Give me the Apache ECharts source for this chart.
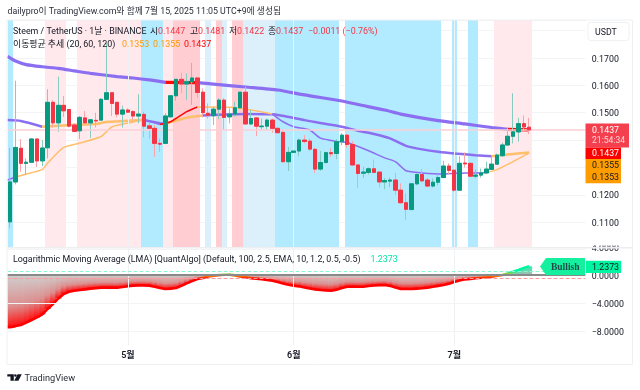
<!DOCTYPE html>
<html lang="ko">
<head>
  <meta charset="UTF-8" />
  <title>Steem / TetherUS</title>
  <script src="https://cdn.jsdelivr.net/npm/echarts@6/dist/echarts.min.js"></script>
  <style>
    html, body { margin: 0; padding: 0; background: #fff; }
    #chart { width: 640px; height: 390px; }
  </style>
</head>
<body>
  <div id="chart"></div>
  <script>
    // daily candles, 9 Apr to 15 Jul 2025
    const opens = [
      .1101, .1247, .1370, .1315, .1319, .1404, .1324, .1372, .1538, .1463,
      .1527, .1512, .1455, .1434, .1481, .1463, .1472, .1473, .1549, .1573,
      .1538, .1495, .1510, .1504, .1488, .1494, .1452, .1443, .1388, .1388,
      .1485, .1562, .1622, .1605, .1613, .1627, .1575, .1498, .1489, .1513,
      .1546, .1485, .1495, .1518, .1575, .1459, .1481, .1449, .1451, .1473,
      .1443, .1428, .1321, .1355, .1360, .1400, .1396, .1366, .1294, .1318,
      .1354, .1351, .1394, .1418, .1384, .1309, .1279, .1282, .1295, .1283,
      .1247, .1250, .1254, .1217, .1171, .1146, .1240, .1274, .1254, .1232,
      .1246, .1263, .1305, .1290, .1217, .1316, .1315, .1268, .1272, .1280,
      .1293, .1312, .1343, .1382, .1414, .1430, .1460, .1447
    ];
    const closes = [
      .1247, .1373, .1315, .1319, .1404, .1324, .1371, .1538, .1463, .1527,
      .1507, .1451, .1432, .1483, .1463, .1474, .1470, .1549, .1573, .1534,
      .1495, .1510, .1502, .1488, .1495, .1451, .1443, .1388, .1385, .1488,
      .1562, .1622, .1605, .1613, .1627, .1574, .1500, .1490, .1513, .1546,
      .1483, .1495, .1518, .1575, .1459, .1479, .1451, .1451, .1473, .1443,
      .1427, .1321, .1355, .1360, .1400, .1395, .1367, .1294, .1318, .1354,
      .1350, .1394, .1418, .1384, .1309, .1278, .1283, .1295, .1282, .1247,
      .1252, .1254, .1217, .1171, .1147, .1240, .1274, .1251, .1232, .1246,
      .1263, .1305, .1289, .1217, .1315, .1313, .1268, .1272, .1280, .1294,
      .1312, .1345, .1382, .1414, .1430, .1460, .1448, .1437
    ];
    const lows = [
      .1079, .1238, .1284, .1272, .1317, .1302, .1305, .1333, .1446, .1430,
      .1485, .1446, .1429, .1404, .1461, .1408, .1446, .1473, .1546, .1488,
      .1483, .1446, .1500, .1473, .1461, .1410, .1406, .1339, .1357, .1385,
      .1483, .1544, .1571, .1546, .1528, .1554, .1483, .1479, .1455, .1476,
      .1440, .1461, .1485, .1516, .1457, .1455, .1415, .1437, .1437, .1427,
      .1425, .1318, .1287, .1315, .1341, .1388, .1360, .1280, .1288, .1315,
      .1339, .1330, .1382, .1373, .1309, .1225, .1262, .1274, .1278, .1227,
      .1220, .1228, .1199, .1168, .1107, .1144, .1235, .1247, .1229, .1227,
      .1235, .1263, .1276, .1211, .1214, .1300, .1266, .1260, .1263, .1278,
      .1290, .1309, .1339, .1379, .1388, .1394, .1430, .1422
    ];
    const highs = [
      .1371, .1617, .1403, .1333, .1406, .1404, .1400, .1586, .1546, .1632,
      .1561, .1512, .1461, .1488, .1506, .1476, .1500, .1553, .1755, .1576,
      .1538, .1526, .1516, .1510, .1568, .1504, .1463, .1455, .1406, .1498,
      .1562, .1622, .1646, .1644, .1682, .1631, .1589, .1534, .1522, .1553,
      .1553, .1516, .1540, .1575, .1595, .1510, .1484, .1479, .1479, .1479,
      .1446, .1437, .1375, .1363, .1406, .1418, .1406, .1373, .1360, .1357,
      .1370, .1404, .1425, .1422, .1397, .1312, .1302, .1300, .1329, .1283,
      .1262, .1263, .1280, .1242, .1205, .1240, .1278, .1294, .1263, .1260,
      .1276, .1324, .1315, .1290, .1341, .1355, .1315, .1293, .1296, .1321,
      .1339, .1351, .1390, .1445, .1571, .1481, .1490, .1481
    ];

    // moving averages as [candle index, price]
    const ma120Points = [
      [-0.5, .1706], [1, .1689], [3, .1676], [6, .1668], [9, .1662], [12, .1653],
      [15, .1644], [20, .1632], [23, .1627], [26, .1620], [29, .1611], [35, .1610],
      [39, .1603], [44, .1594], [50, .1583], [55, .1565], [62, .1543], [65, .1530],
      [70, .1510], [73, .1495], [80, .1471], [85, .1459], [90, .1446], [93, .1439],
      [97, .1437]
    ];
    const ma60Points = [
      [-0.5, .1473], [2, .1470], [6, .1449], [12, .1456], [16, .1459], [18, .1466],
      [23, .1472], [25, .1473], [28, .1462], [29, .1459], [30, .1466], [33, .1482],
      [36, .1490], [44, .1495], [49, .1494], [55, .1473], [62, .1449], [65, .1434],
      [68, .1422], [71, .1406], [74, .1379], [77, .1366], [80, .1357], [83, .1351],
      [87, .1345], [90, .1341], [93, .1347], [97, .1355]
    ];
    const ma20Points = [
      [-0.5, .1254], [1, .1265], [3, .1276], [6, .1292], [7, .1316], [10, .1373],
      [13, .1389], [17, .1413], [19, .1448], [23, .1466], [25, .1475], [28, .1457],
      [30, .1467], [33, .1504], [35, .1521], [41, .1520], [45, .1510], [49, .1495],
      [51, .1467], [53, .1449], [56, .1437], [58, .1407], [61, .1395], [63, .1391],
      [67, .1361], [70, .1335], [72, .1321], [74, .1288], [77, .1280], [81, .1276],
      [85, .1280], [89, .1281], [91, .1292], [94, .1321], [97, .1353]
    ];

    // trend colour runs per average: [from index, to index, state]
    const ma120Runs = [[-0.5, 29, 'down'], [29, 35, 'up'], [35, 93, 'down'], [93, 97, 'up']];
    const ma60Runs = [[-0.5, 6, 'down'], [6, 25, 'flat'], [25, 29, 'down'], [29, 36, 'flat'], [36, 90, 'down'], [90, 97, 'flat']];
    const ma20Runs = [[-0.5, 1, 'down'], [1, 25, 'flat'], [25, 28, 'down'], [28, 35, 'up'], [35, 49, 'flat'], [49, 89, 'down'], [89, 97, 'flat']];

    // background state per candle: 0 none, 1 pink, 2 red, 3 cyan, 4 pale blue
    const bandStates = [
      3, 0, 0, 0, 0, 0, 0, 1, 1, 1,
      1, 0, 0, 1, 1, 1, 1, 1, 1, 1,
      1, 1, 1, 1, 1, 3, 3, 3, 3, 1,
      1, 2, 2, 2, 2, 2, 0, 4, 0, 2,
      4, 0, 2, 2, 4, 4, 4, 4, 4, 4,
      3, 3, 3, 3, 3, 3, 3, 3, 3, 3,
      3, 3, 0, 3, 3, 3, 3, 3, 3, 3,
      3, 3, 3, 3, 3, 3, 3, 3, 3, 3,
      3, 0, 0, 3, 0, 0, 3, 3, 0, 0,
      0, 1, 1, 1, 1, 1, 1, 1
    ];

    // LMA indicator per candle
    const lmaValues = [
      -7.45, -7.3, -7.14, -6.8, -6.43, -6.05, -5.62, -4.85, -4.14, -3.35,
      -2.71, -2.4, -2.25, -2.14, -2.05, -1.95, -1.87, -1.81, -1.8, -1.8,
      -1.81, -1.72, -1.6, -1.52, -1.48, -1.48, -1.52, -1.68, -1.86, -2.0,
      -1.95, -1.86, -1.55, -1.2, -.88, -.57, -.43, -.22, -.1, -.02,
      .03, .05, -.05, -.2, -.33, -.45, -.52, -.6, -.7, -.81,
      -1.0, -1.2, -1.38, -1.52, -1.62, -1.78, -1.92, -2.05, -2.14, -2.2,
      -2.24, -2.1, -1.85, -1.67, -1.65, -1.68, -1.67, -1.58, -1.5, -1.45,
      -1.43, -1.55, -1.8, -1.98, -2.0, -2.0, -1.95, -1.9, -1.8, -1.68,
      -1.55, -1.43, -1.25, -1.0, -.8, -.62, -.55, -.47, -.4, -.33,
      -.24, -.12, 0, .2, .45, .72, 1.0, 1.2373
    ];

    const monthIndexes = [22, 53, 83];
    const monthLabels = ['5월', '6월', '7월'];
    const lmaTicks = [4, 0, -4, -8];
    const lmaLevels = [0.5, -0.5];
    const lastPrice = 0.1437;

    const SLOTS = 108; // candles plus the empty space on the right
    const LABEL_NUDGE = 1.4; // canvas text sits a little high, label grids are moved down by this
    const bandColors = ['', '#ffe9ec', '#ffcdd2', '#b2ebff', '#dcf0fb'];
    const trendColors = { down: '#8b6ff0', flat: '#ffbf6b', up: '#ff0a0a' };
    const UI_FONT = 'Roboto, "Noto Sans CJK KR", sans-serif';

    const slotLabels = [];
    for (let i = 0; i < SLOTS; i++) {
      const m = monthIndexes.indexOf(i);
      slotLabels.push(m >= 0 ? monthLabels[m] : '');
    }

    const series = [];

    // coloured background bands
    series.push({
      type: 'custom',
      xAxisIndex: 1,
      yAxisIndex: 0,
      z: 1,
      silent: true,
      clip: true,
      data: bandStates.map((s, i) => [i, s]),
      renderItem(params, api) {
        const state = api.value(1);
        if (!state) return null;
        const i = api.value(0);
        const a = api.coord([i - 0.5, 0.1839]);
        const b = api.coord([i + 0.5, 0.1008]);
        const x0 = Math.round(a[0]);
        const x1 = Math.round(b[0]);
        return {
          type: 'rect',
          shape: { x: x0, y: a[1], width: x1 - x0, height: b[1] - a[1] },
          style: { fill: bandColors[state] }
        };
      }
    });

    // month grid lines and last price line
    series.push({
      type: 'line',
      xAxisIndex: 1,
      yAxisIndex: 0,
      z: 2,
      data: [],
      markLine: {
        silent: true,
        symbol: 'none',
        animation: false,
        precision: 6,
        label: { show: false },
        data: monthIndexes.map(m => ({ xAxis: m, lineStyle: { color: '#f0f1f3', width: 1, type: 'solid' } }))
          .concat([{ yAxis: lastPrice, lineStyle: { color: '#fbcfd4', width: 1.5, type: 'solid' } }])
      }
    });

    function addTrendLine(points, runs, width) {
      runs.forEach(run => {
        series.push({
          type: 'line',
          xAxisIndex: 1,
          yAxisIndex: 0,
          z: 3,
          showSymbol: false,
          smooth: 0.2,
          silent: true,
          lineStyle: { color: trendColors[run[2]], width },
          data: points.filter(p => p[0] >= run[0] && p[0] <= run[1])
        });
      });
    }
    addTrendLine(ma120Points, ma120Runs, 3.2);
    addTrendLine(ma60Points, ma60Runs, 2.5);
    addTrendLine(ma20Points, ma20Runs, 1.5);

    // wicks in a pale tone, then solid bodies on top
    series.push({
      type: 'candlestick',
      xAxisIndex: 0,
      yAxisIndex: 0,
      z: 4,
      silent: true,
      barWidth: 4,
      itemStyle: { color: '#089981', color0: '#f23645', borderColor: '#85cbbf', borderColor0: '#f9a3aa', borderWidth: 1 },
      data: opens.map((o, i) => [o, closes[i], lows[i], highs[i]])
    });
    series.push({
      type: 'candlestick',
      xAxisIndex: 0,
      yAxisIndex: 0,
      z: 5,
      silent: true,
      barWidth: 4,
      itemStyle: { color: '#089981', color0: '#f23645', borderColor: '#089981', borderColor0: '#f23645', borderWidth: 1 },
      data: opens.map((o, i) => [o, closes[i], Math.min(o, closes[i]), Math.max(o, closes[i])])
    });

    // indicator pane: shaded columns down or up to the LMA value
    series.push({
      type: 'bar',
      xAxisIndex: 2,
      yAxisIndex: 1,
      z: 2,
      silent: true,
      barWidth: 6,
      data: lmaValues.map(v => ({
        value: v,
        itemStyle: {
          color: v < 0
            ? new echarts.graphic.LinearGradient(0, 0, 0, 1, [
                { offset: 0, color: '#cfcfcf' },
                { offset: 0.6, color: '#dc8f8f' },
                { offset: 1, color: '#ff1010' }
              ])
            : new echarts.graphic.LinearGradient(0, 0, 0, 1, [
                { offset: 0, color: '#2cf0ac' },
                { offset: 1, color: '#b5b5b5' }
              ])
        }
      }))
    });

    // indicator guide lines
    series.push({
      type: 'line',
      xAxisIndex: 3,
      yAxisIndex: 1,
      z: 3,
      data: [],
      markLine: {
        silent: true,
        symbol: 'none',
        animation: false,
        precision: 4,
        label: { show: false },
        data: lmaTicks.filter(t => t !== 0).map(t => ({ yAxis: t, lineStyle: { color: '#f3f4f6', width: 1, type: 'solid' } }))
          .concat(monthIndexes.map(m => ({ xAxis: m, lineStyle: { color: '#f0f1f3', width: 1, type: 'solid' } })))
          .concat([
            { yAxis: 0, lineStyle: { color: '#8a8a8a', width: 2, type: 'solid' } },
            { yAxis: lmaLevels[0], lineStyle: { color: '#8df5d2', width: 1, type: 'dashed' } },
            { yAxis: lmaLevels[1], lineStyle: { color: '#ff9b9b', width: 1, type: 'dashed' } }
          ])
      }
    });

    const lmaSeriesIndex = series.length;
    series.push({
      type: 'line',
      xAxisIndex: 3,
      yAxisIndex: 1,
      z: 4,
      showSymbol: false,
      silent: true,
      lineStyle: { width: 2.6 },
      data: [[-0.5, lmaValues[0]]].concat(lmaValues.map((v, i) => [i, v]))
    });

    function txt(x, y, text, fill, extra) {
      return {
        type: 'text',
        z: 100,
        silent: true,
        x,
        y: y + 1.2,
        style: Object.assign({
          text,
          fill,
          font: '8.9px ' + UI_FONT,
          textVerticalAlign: 'middle'
        }, extra || {})
      };
    }
    function box(x, y, width, height, fill, extra) {
      return Object.assign({
        type: 'rect',
        z: 90,
        silent: true,
        shape: { x, y, width, height },
        style: { fill }
      }, extra || {});
    }

    const RED = '#f23645';
    const INK = '#131722';
    const graphics = [
      txt(7.5, 11, 'dailypro이 TradingView.com와 함께 7월 15, 2025 11:05 UTC+9에 생성됨', '#2a2e39', { font: '8.8px ' + UI_FONT }),

      txt(13, 31, 'Steem / TetherUS · 1날 · BINANCE', INK),
      txt(150, 31, '시', INK), txt(158, 31, '0.1447', RED),
      txt(190, 31, '고', INK), txt(198, 31, '0.1481', RED),
      txt(229, 31, '저', INK), txt(237, 31, '0.1422', RED),
      txt(268, 31, '종', INK), txt(276, 31, '0.1437', RED),
      txt(308, 31, '−0.0011 (−0.76%)', RED),

      txt(13, 43.5, '이동평균 추세 (20, 60, 120)', INK),
      txt(122, 43.5, '0.1353', '#ff9800'),
      txt(153, 43.5, '0.1355', '#ff9800'),
      txt(184, 43.5, '0.1437', '#ff0000'),

      txt(13, 258.5, 'Logarithmic Moving Average (LMA) [QuantAlgo] (Default, 100, 2.5, EMA, 10, 1.2, 0.5, -0.5)', INK),
      txt(370.5, 258.5, '1.2373', '#00e5a0'),

      // frame and pane divider
      box(7, 20, 625.5, 344.5, 'transparent', { style: { fill: 'transparent', stroke: '#eef0f2', lineWidth: 1 }, z: 80 }),
      box(7.5, 247, 625, 1.6, '#eceef0', { z: 40 }),
      box(587, 236, 45, 9.5, '#ffffff', { z: 50 }),

      // USDT button
      {
        type: 'rect', z: 90, silent: true,
        shape: { x: 588, y: 22.5, width: 41, height: 18, r: 3 },
        style: { fill: '#ffffff', stroke: '#f0f1f3', lineWidth: 1 }
      },
      txt(595, 31.5, 'USDT', INK, { font: '8.8px ' + UI_FONT }),

      // price tags
      box(585.5, 123.5, 43.5, 24, '#f4404e'),
      txt(592, 130, '0.1437', '#ffffff', { font: '8.8px ' + UI_FONT }),
      txt(592, 140, '21:54:34', '#ffd5d9', { font: '8.6px ' + UI_FONT }),
      box(585.5, 147.5, 35.5, 11.5, '#ff0000'),
      txt(592, 152.5, '0.1437', '#ffffff', { font: '8.8px ' + UI_FONT }),
      box(585.5, 159, 35.5, 24.3, '#ff9d00'),
      txt(592, 165, '0.1355', INK, { font: '8.8px ' + UI_FONT }),
      txt(592, 177, '0.1353', INK, { font: '8.8px ' + UI_FONT }),

      // indicator tags
      {
        type: 'polygon', z: 90, silent: true,
        shape: { points: [[540, 266.5], [546, 258], [585, 258], [585, 275], [546, 275]] },
        style: { fill: '#14f09e' }
      },
      txt(551, 266, 'Bullish', '#1f4a4d', { font: 'bold 9.5px "Liberation Serif", serif' }),
      box(585.7, 260.7, 35.5, 12.2, '#00f5a0'),
      txt(592, 266.5, '1.2373', INK, { font: '8.8px ' + UI_FONT }),

      // TradingView mark
      {
        type: 'polygon', z: 90, silent: true,
        shape: { points: [[7.3, 374.2], [13.8, 374.2], [13.8, 380.8], [10.5, 380.8], [10.5, 376.6], [7.3, 376.6]] },
        style: { fill: '#131722' }
      },
      { type: 'circle', z: 90, silent: true, shape: { cx: 15.4, cy: 375.4, r: 1.25 }, style: { fill: '#131722' } },
      {
        type: 'polygon', z: 90, silent: true,
        shape: { points: [[17.6, 374.2], [21.8, 374.2], [18.4, 380.8], [14.2, 380.8]] },
        style: { fill: '#131722' }
      },
      txt(24.5, 377.5, 'TradingView', '#2a2e39', { font: '9.2px ' + UI_FONT })
    ];

    const rightLabels = {
      margin: 6.5,
      color: '#131722',
      fontSize: 8.8,
      fontFamily: UI_FONT
    };

    const chart = echarts.init(document.getElementById('chart'), null, { renderer: 'canvas' });
    chart.setOption({
      animation: false,
      backgroundColor: '#ffffff',
      textStyle: { fontFamily: UI_FONT },
      grid: [
        { left: 7.5, width: 577.8, top: 20, height: 229.5 },
        { left: 7.5, width: 577.8, top: 247, height: 98 },
        // same panes again, only to carry the price labels a touch lower
        { left: 7.5, width: 577.8, top: 20 + LABEL_NUDGE, height: 229.5 },
        { left: 7.5, width: 577.8, top: 247 + LABEL_NUDGE, height: 98 }
      ],
      xAxis: [
        { type: 'category', gridIndex: 0, data: slotLabels, show: false },
        { type: 'value', gridIndex: 0, min: -0.5, max: SLOTS - 0.5, show: false },
        {
          type: 'category',
          gridIndex: 1,
          data: slotLabels,
          axisLine: { show: false },
          axisTick: { show: false },
          axisLabel: { interval: 0, color: '#131722', fontSize: 9, fontWeight: 600, margin: 6, fontFamily: UI_FONT }
        },
        { type: 'value', gridIndex: 1, min: -0.5, max: SLOTS - 0.5, show: false },
        { type: 'value', gridIndex: 2, show: false },
        { type: 'value', gridIndex: 3, show: false }
      ],
      yAxis: [
        {
          type: 'value',
          gridIndex: 0,
          position: 'right',
          min: 0.10,
          max: 0.1839,
          interval: 0.01,
          axisLine: { show: false },
          axisTick: { show: false },
          axisLabel: { show: false },
          splitLine: { lineStyle: { color: '#f3f4f6', width: 1 } }
        },
        {
          type: 'value',
          gridIndex: 1,
          position: 'right',
          min: -10,
          max: 4,
          interval: 2,
          axisLine: { show: false },
          axisTick: { show: false },
          axisLabel: { show: false },
          splitLine: { show: false }
        },
        {
          type: 'value',
          gridIndex: 2,
          position: 'right',
          min: 0.10,
          max: 0.1839,
          interval: 0.01,
          axisLine: { show: false },
          axisTick: { show: false },
          splitLine: { show: false },
          axisLabel: Object.assign({}, rightLabels, {
            formatter: v => (v > 0.105 && v < 0.183) ? v.toFixed(4) : ''
          })
        },
        {
          type: 'value',
          gridIndex: 3,
          position: 'right',
          min: -10,
          max: 4,
          interval: 2,
          axisLine: { show: false },
          axisTick: { show: false },
          splitLine: { show: false },
          axisLabel: Object.assign({}, rightLabels, {
            formatter: v => lmaTicks.includes(v) ? v.toFixed(4).replace('-', '−') : ''
          })
        }
      ],
      visualMap: [{
        type: 'continuous',
        show: false,
        seriesIndex: lmaSeriesIndex,
        dimension: 1,
        min: lmaLevels[1],
        max: lmaLevels[0],
        inRange: { color: ['#ff0000', '#ffb000', '#00f5a0'] }
      }],
      series,
      graphic: { elements: graphics }
    });
  </script>
</body>
</html>
